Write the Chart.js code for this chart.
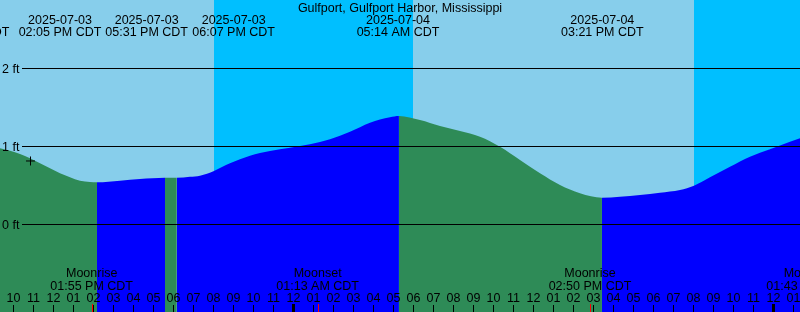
<!DOCTYPE html>
<html>
<head>
<meta charset="utf-8">
<script src="https://cdn.jsdelivr.net/npm/chart.js@4.4.1/dist/chart.umd.min.js"></script>
<style>
  html, body { margin: 0; padding: 0; background: #87ceeb; }
  #wrap { position: relative; width: 800px; height: 312px; }
</style>
</head>
<body>
<div id="wrap"><canvas id="tide" width="800" height="312"></canvas></div>
<script>
// all times are hours counted from 2025-07-03 00:00 CDT
const viewStart = 9.3333;
const viewEnd = 49.3333;

// tide height (ft)
const tideHours = [9.0, 9.333, 9.833, 10.333, 10.833, 11.333, 11.833, 12.333, 12.833, 13.333, 13.833, 14.183,
  15.333, 16.333, 17.583, 18.175, 18.833, 19.333, 20.033, 20.833, 21.833, 22.833, 23.833, 24.833, 25.833,
  26.833, 27.833, 28.833, 29.28, 30.333, 31.333, 32.333, 33.333, 34.333, 35.333, 36.333, 37.333, 38.333,
  39.43, 40.333, 41.333, 42.333, 43.333, 44.033, 44.833, 45.833, 46.833, 47.833, 48.833, 49.333, 49.833];
const tideFeet = [0.99, 0.971, 0.940, 0.897, 0.842, 0.778, 0.714, 0.650, 0.599, 0.555, 0.538, 0.535,
  0.555, 0.577, 0.594, 0.593, 0.606, 0.620, 0.680, 0.778, 0.876, 0.936, 0.978, 1.022, 1.086,
  1.183, 1.299, 1.368, 1.385, 1.333, 1.256, 1.192, 1.119, 0.991, 0.821, 0.650, 0.500, 0.394,
  0.337, 0.350, 0.372, 0.401, 0.436, 0.491, 0.599, 0.735, 0.863, 0.958, 1.055, 1.099, 1.14];

const tideEventHours = [7.733, 14.083, 17.517, 18.117, 29.233, 39.35];
const tideEventDates = ['2025-07-03', '2025-07-03', '2025-07-03', '2025-07-03', '2025-07-04', '2025-07-04'];
const tideEventTimes = ['07:44 AM CDT', '02:05 PM CDT', '05:31 PM CDT', '06:07 PM CDT', '05:14 AM CDT', '03:21 PM CDT'];

const moonEventHours = [13.917, 25.217, 38.833, 49.717];
const moonEventNames = ['Moonrise', 'Moonset', 'Moonrise', 'Moonset'];
const moonEventTimes = ['01:55 PM CDT', '01:13 AM CDT', '02:50 PM CDT', '01:43 AM CDT'];

const nightStartHours = [20.033, 44.033];
const nightEndHours = [29.967, 53.97];

const levelFeet = [0, 1, 2];
const levelLabels = ['0 ft', '1 ft', '2 ft'];

const hourTicks = [10, 11, 12, 13, 14, 15, 16, 17, 18, 19, 20, 21, 22, 23, 24, 25, 26, 27, 28, 29,
  30, 31, 32, 33, 34, 35, 36, 37, 38, 39, 40, 41, 42, 43, 44, 45, 46, 47, 48, 49];
const hourLabels = ['10', '11', '12', '01', '02', '03', '04', '05', '06', '07', '08', '09', '10', '11', '12', '01',
  '02', '03', '04', '05', '06', '07', '08', '09', '10', '11', '12', '01', '02', '03', '04', '05', '06', '07',
  '08', '09', '10', '11', '12', '01'];

const markHour = [10.858];
const markFeet = [0.808];

const title = 'Gulfport, Gulfport Harbor, Mississippi';

const DAY = '#87ceeb';
const NIGHT = '#00bfff';
const EBB = '#2e8b57';
const FLOOD = '#0000ff';
const FONT = '12.5px "Liberation Sans", Arial, sans-serif';

// label shifts (px) so the top labels do not run into each other
const eventLabelNudge = [0, -35, -17, 58, 0, 2];

const skyPlugin = {
  id: 'sky',
  beforeDatasetsDraw(chart) {
    const { ctx, chartArea: a, scales: { x } } = chart;
    ctx.save();
    ctx.fillStyle = DAY;
    ctx.fillRect(a.left, a.top, a.right - a.left, a.bottom - a.top);
    ctx.fillStyle = NIGHT;
    nightStartHours.forEach((s, i) => {
      const x0 = Math.round(x.getPixelForValue(s));
      const x1 = Math.round(x.getPixelForValue(nightEndHours[i]));
      ctx.fillRect(x0, a.top, x1 - x0, a.bottom - a.top);
    });
    ctx.restore();
  }
};

const annotatePlugin = {
  id: 'annotate',
  afterDatasetsDraw(chart) {
    const { ctx, chartArea: a, scales: { x, y } } = chart;
    ctx.save();
    ctx.font = FONT;
    ctx.fillStyle = '#000';
    ctx.textBaseline = 'alphabetic';

    // level lines + labels
    levelFeet.forEach((f, i) => {
      const py = Math.round(y.getPixelForValue(f));
      ctx.fillRect(22, py, a.right - 22, 1);
      ctx.textAlign = 'left';
      ctx.fillText(levelLabels[i], 2, py + 4.5);
    });

    ctx.textAlign = 'center';
    ctx.fillText(title, 400, 12);

    tideEventHours.forEach((t, i) => {
      const px = x.getPixelForValue(t) + eventLabelNudge[i];
      ctx.fillText(tideEventDates[i], px, 24);
      ctx.fillText(tideEventTimes[i], px, 36);
    });

    moonEventHours.forEach((t, i) => {
      const px = x.getPixelForValue(t);
      ctx.fillText(moonEventNames[i], px, 277);
      ctx.fillText(moonEventTimes[i], px, 289.5);
    });

    hourTicks.forEach((t, i) => {
      const px = Math.round(x.getPixelForValue(t));
      ctx.fillText(hourLabels[i], px + 0.5, 302);
      if (t % 24 === 0) {
        ctx.fillRect(px - 1, 304, 3, a.bottom - 304);
      } else {
        ctx.fillRect(px, 305, 1, a.bottom - 305);
      }
    });

    ctx.fillStyle = '#ff0000';
    moonEventHours.forEach(t => {
      const px = Math.round(x.getPixelForValue(t));
      ctx.fillRect(px, 304, 1, a.bottom - 304);
    });
    ctx.restore();
  }
};

new Chart(document.getElementById('tide'), {
  type: 'line',
  data: {
    datasets: [
      {
        type: 'scatter',
        data: markHour.map((t, i) => ({ x: t, y: markFeet[i] })),
        pointStyle: 'cross',
        pointRadius: 4.5,
        borderColor: '#000',
        borderWidth: 1,
        order: 0
      },
      {
        data: tideHours.map((t, i) => ({ x: t, y: tideFeet[i] })),
        fill: 'start',
        backgroundColor: FLOOD,
        borderWidth: 0,
        borderColor: 'rgba(0,0,0,0)',
        pointRadius: 0,
        cubicInterpolationMode: 'monotone',
        segment: {
          // falling water is ebb (green), rising water is flood (blue)
          backgroundColor: c => (c.p1.parsed.y < c.p0.parsed.y ? EBB : FLOOD)
        },
        order: 1
      }
    ]
  },
  options: {
    responsive: false,
    animation: false,
    devicePixelRatio: 1,
    events: [],
    layout: { padding: 0, autoPadding: false },
    plugins: { legend: { display: false }, tooltip: { enabled: false } },
    scales: {
      x: { type: 'linear', min: viewStart, max: viewEnd, display: false },
      y: { min: -88 / 78, max: 224 / 78, display: false }
    }
  },
  plugins: [skyPlugin, annotatePlugin]
});
</script>
</body>
</html>
